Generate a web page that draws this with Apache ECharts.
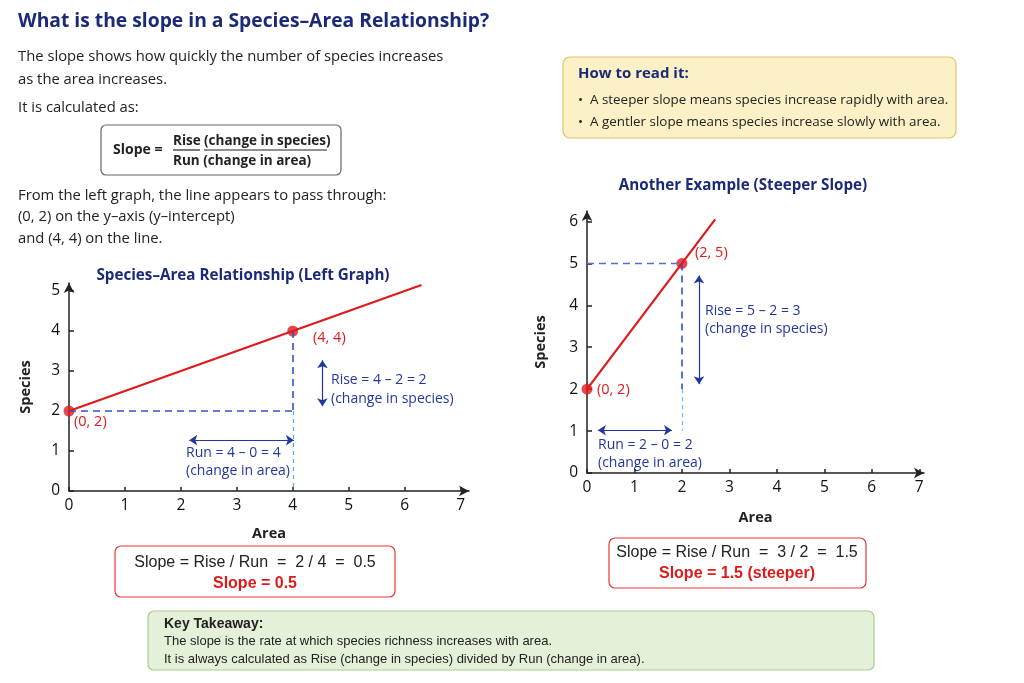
<!DOCTYPE html>
<html><head><meta charset="utf-8">
<script src="https://cdn.jsdelivr.net/npm/echarts@6/dist/echarts.min.js"></script>
<style>html,body{margin:0;padding:0;background:#fff}#c{width:1024px;height:683px}</style>
</head><body><div id="c"></div>
<script>
// ---- data ----
const xTicks = [0, 1, 2, 3, 4, 5, 6, 7];
const leftYTicks = [0, 1, 2, 3, 4, 5];
const rightYTicks = [0, 1, 2, 3, 4, 5, 6];
const leftLine = [[0, 2], [4, 4], [6.3, 5.15]];
const leftPoints = [[0, 2], [4, 4]];
const rightLine = [[0, 2], [2, 5], [2.7, 6.05]];
const rightPoints = [[0, 2], [2, 5]];
// guides: [from, to]
const leftRunGuide = [[0, 2], [4, 2]];
const leftRiseGuide = [[4, 4], [4, 2]];
const leftDropGuide = [[4, 2], [4, 0]];
const leftRiseArrow = [[4.53, 3.27], [4.53, 2.12]];
const leftRunArrow = [[2.15, 1.27], [4.02, 1.27]];
const rightRunGuide = [[0, 5], [2, 5]];
const rightRiseGuide = [[2, 5], [2, 2]];
const rightDropGuide = [[2, 2], [2, 1]];
const rightRiseArrow = [[2.36, 4.71], [2.36, 2.12]];
const rightRunArrow = [[0.23, 1.02], [1.79, 1.02]];

const FONT = '"Open Sans", "Noto Sans", sans-serif';
const NARROW = '"Liberation Sans Narrow", "Liberation Sans", sans-serif';
const NAVY = '#1b2a78';
const BLUE = '#2236a0';
const RED = '#e0191b';
const TXT = '#222';

function axisX(grid, max) {
  return {
    type: 'value', gridIndex: grid, min: 0, max: max, interval: 1,
    name: 'Area', nameLocation: 'middle', nameGap: grid === 0 ? 35 : 37,
    nameTextStyle: { fontFamily: FONT, fontWeight: 'bold', fontSize: 14.5, color: TXT },
    axisLine: { show: true, symbol: ['none', 'arrow'], symbolSize: [8, 10], lineStyle: { color: '#222', width: 1.5 } },
    axisTick: { show: true, inside: true, length: 4, lineStyle: { color: '#222', width: 1.5 } },
    axisLabel: { fontFamily: FONT, fontSize: 15.5, color: '#111', margin: 7, showMaxLabel: false,
      formatter: v => (xTicks.indexOf(v) >= 0 ? String(v) : '') },
    splitLine: { show: false }
  };
}
function axisY(grid, max, ticks) {
  return {
    type: 'value', gridIndex: grid, min: 0, max: max, interval: 1,
    name: 'Species', nameLocation: 'middle', nameGap: grid === 0 ? 36 : 39, nameRotate: 90,
    nameTextStyle: { fontFamily: FONT, fontWeight: 'bold', fontSize: 14.5, color: TXT },
    axisLine: { show: true, symbol: ['none', 'arrow'], symbolSize: [8, 10], lineStyle: { color: '#222', width: 1.5 } },
    axisTick: { show: true, inside: true, length: 5, lineStyle: { color: '#222', width: 1.5 } },
    axisLabel: { fontFamily: FONT, fontSize: 15.5, color: '#111', margin: 9, showMaxLabel: false,
      formatter: v => (ticks.indexOf(v) >= 0 ? String(v) : '') },
    splitLine: { show: false }
  };
}
function guide(pair, color, dash, width) {
  const ls = { color: color, type: dash, width: width };
  return [{ coord: pair[0], lineStyle: ls, symbol: 'none' }, { coord: pair[1], lineStyle: ls, symbol: 'none' }];
}
function arrow(pair) {
  const ls = { color: BLUE, type: 'solid', width: 1.2 };
  return [{ coord: pair[0], lineStyle: ls, symbol: 'arrow', symbolSize: 8 },
          { coord: pair[1], lineStyle: ls, symbol: 'arrow', symbolSize: 8 }];
}
function guideSeries(grid, items) {
  return {
    type: 'line', xAxisIndex: grid, yAxisIndex: grid, data: [], silent: true,
    markLine: { silent: true, symbol: ['none', 'none'], label: { show: false }, animation: false, data: items }
  };
}

function txt(x, y, text, opt) {
  opt = opt || {};
  return { type: 'text', x: x, y: y, silent: true, style: {
    text: text, fill: opt.fill || TXT,
    font: (opt.weight || 'normal') + ' ' + (opt.size || 14.8) + 'px ' + (opt.family || FONT),
    textAlign: opt.align || 'left', textVerticalAlign: 'middle' } };
}
function box(x, y, w, h, fill, stroke, r) {
  return { type: 'rect', shape: { x: x, y: y, width: w, height: h, r: r || 6 }, silent: true,
    style: { fill: fill, stroke: stroke, lineWidth: 1.2 } };
}
function hline(x1, x2, y, color) {
  return { type: 'line', shape: { x1: x1, y1: y, x2: x2, y2: y }, silent: true, style: { stroke: color, lineWidth: 1.2 } };
}

const chart = echarts.init(document.getElementById('c'), null, { renderer: 'canvas' });
chart.setOption({
  backgroundColor: '#ffffff',
  animation: false,
  grid: [
    { left: 69, top: 283, width: 400, height: 208 },
    { left: 587, top: 211, width: 337, height: 262 }
  ],
  xAxis: [axisX(0, 7.15), axisX(1, 7.1)],
  yAxis: [axisY(0, 5.2, leftYTicks), axisY(1, 6.25, rightYTicks)],
  series: [
    guideSeries(0, [
      guide(leftRunGuide, '#3350c8', [7, 5], 1.6),
      guide(leftRiseGuide, '#3350c8', [7, 5], 1.6),
      guide(leftDropGuide, '#58a8ee', [4, 4], 1.2),
      arrow(leftRiseArrow), arrow(leftRunArrow)
    ]),
    guideSeries(1, [
      guide(rightRunGuide, '#4a6fd8', [7, 5], 1.3),
      guide(rightRiseGuide, '#3350c8', [7, 5], 1.6),
      guide(rightDropGuide, '#6ab4f0', [4, 4], 1.2),
      arrow(rightRiseArrow), arrow(rightRunArrow)
    ]),
    { type: 'line', xAxisIndex: 0, yAxisIndex: 0, data: leftLine, showSymbol: false, symbol: 'none',
      lineStyle: { color: RED, width: 2.2 }, z: 3 },
    { type: 'scatter', xAxisIndex: 0, yAxisIndex: 0, data: leftPoints, symbolSize: 11,
      itemStyle: { color: RED }, z: 4 },
    { type: 'line', xAxisIndex: 1, yAxisIndex: 1, data: rightLine, showSymbol: false, symbol: 'none',
      lineStyle: { color: RED, width: 2.2 }, z: 3 },
    { type: 'scatter', xAxisIndex: 1, yAxisIndex: 1, data: rightPoints, symbolSize: 11,
      itemStyle: { color: RED }, z: 4 }
  ],
  graphic: [
    txt(18, 22, 'What is the slope in a Species–Area Relationship?', { size: 19.3, weight: 'bold', fill: NAVY }),
    txt(18, 57, 'The slope shows how quickly the number of species increases'),
    txt(18, 80, 'as the area increases.'),
    txt(18, 108, 'It is calculated as:'),
    box(101, 125, 240, 50, '#ffffff', '#666', 5),
    txt(113, 150, 'Slope =', { weight: 'bold', size: 14 }),
    txt(173, 141, 'Rise', { weight: 'bold', size: 13.5 }),
    txt(204, 141, '(change in species)', { weight: 'bold', size: 13.5 }),
    hline(173, 200, 150, '#222'),
    hline(204, 327, 150, '#222'),
    txt(173, 161, 'Run (change in area)', { weight: 'bold', size: 13.5 }),
    txt(18, 196, 'From the left graph, the line appears to pass through:'),
    txt(18, 217, '(0, 2) on the y–axis (y–intercept)'),
    txt(18, 239, 'and (4, 4) on the line.'),

    box(563, 57, 393, 81, '#fcf0c6', '#e0c36e', 7),
    txt(578, 74, 'How to read it:', { weight: 'bold', fill: NAVY, size: 15 }),
    txt(578, 100, '•', { size: 13.4 }),
    txt(590, 100, 'A steeper slope means species increase rapidly with area.', { size: 13.4 }),
    txt(578, 122, '•', { size: 13.4 }),
    txt(590, 122, 'A gentler slope means species increase slowly with area.', { size: 13.4 }),

    txt(243, 276, 'Species–Area Relationship (Left Graph)', { weight: 'bold', fill: NAVY, align: 'center', size: 15.2 }),
    txt(743, 186, 'Another Example (Steeper Slope)', { weight: 'bold', fill: NAVY, align: 'center', size: 15.2 }),

    txt(74, 422, '(0, 2)', { fill: RED, size: 14.5 }),
    txt(313, 338, '(4, 4)', { fill: RED, size: 14.5 }),
    txt(331, 380, 'Rise = 4 – 2 = 2', { fill: BLUE, size: 14 }),
    txt(331, 399, '(change in species)', { fill: BLUE, size: 14 }),
    txt(186, 453, 'Run = 4 – 0 = 4', { fill: BLUE, size: 14 }),
    txt(186, 471, '(change in area)', { fill: BLUE, size: 14 }),

    txt(597, 390, '(0, 2)', { fill: RED, size: 14.5 }),
    txt(695, 253, '(2, 5)', { fill: RED, size: 14.5 }),
    txt(705, 311, 'Rise = 5 – 2 = 3', { fill: BLUE, size: 14 }),
    txt(705, 329, '(change in species)', { fill: BLUE, size: 14 }),
    txt(598, 445, 'Run = 2 – 0 = 2', { fill: BLUE, size: 14 }),
    txt(598, 463, '(change in area)', { fill: BLUE, size: 14 }),

    box(115, 546, 280, 51, '#ffffff', '#e53935', 6),
    txt(255, 563, 'Slope = Rise / Run  =  2 / 4  =  0.5', { family: NARROW, size: 16, align: 'center' }),
    txt(255, 584, 'Slope = 0.5', { family: NARROW, size: 16, weight: 'bold', fill: RED, align: 'center' }),

    box(609, 538, 257, 50, '#ffffff', '#e53935', 6),
    txt(737, 553, 'Slope = Rise / Run  =  3 / 2  =  1.5', { family: NARROW, size: 16, align: 'center' }),
    txt(737, 574, 'Slope = 1.5 (steeper)', { family: NARROW, size: 16, weight: 'bold', fill: RED, align: 'center' }),

    box(148, 611, 726, 59, '#e4f1d8', '#a9cd8f', 6),
    txt(164, 624, 'Key Takeaway:', { family: NARROW, size: 14, weight: 'bold' }),
    txt(164, 641, 'The slope is the rate at which species richness increases with area.', { family: NARROW, size: 13 }),
    txt(164, 659, 'It is always calculated as Rise (change in species) divided by Run (change in area).', { family: NARROW, size: 13 })
  ]
});
</script></body></html>
